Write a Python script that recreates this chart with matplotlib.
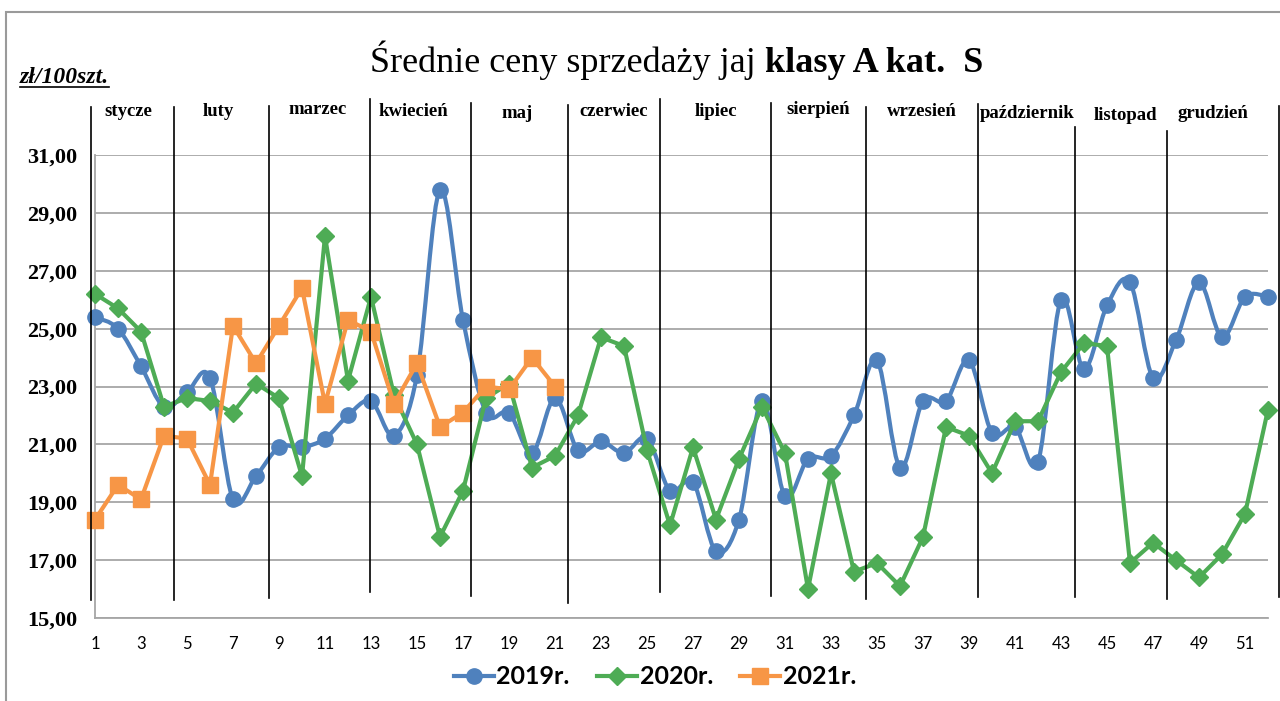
import numpy as np
import matplotlib
matplotlib.use("Agg")
import matplotlib.pyplot as plt
from matplotlib.path import Path
from matplotlib.patches import PathPatch, Rectangle
from matplotlib.lines import Line2D

# dane: tygodnie 1-52
tygodnie = list(range(1, 53))
ceny_2019 = [25.4, 25.0, 23.7, 22.3, 22.8, 23.3, 19.1, 19.9, 20.9, 20.9,
             21.2, 22.0, 22.5, 21.3, 23.4, 29.8, 25.3, 22.1, 22.1, 20.7,
             22.6, 20.8, 21.1, 20.7, 21.2, 19.4, 19.7, 17.3, 18.4, 22.5,
             19.2, 20.5, 20.6, 22.0, 23.9, 20.2, 22.5, 22.5, 23.9, 21.4,
             21.6, 20.4, 26.0, 23.6, 25.8, 26.6, 23.3, 24.6, 26.6, 24.7,
             26.1, 26.1]
ceny_2020 = [26.2, 25.7, 24.9, 22.3, 22.6, 22.5, 22.1, 23.1, 22.6, 19.9,
             28.2, 23.2, 26.1, 22.7, 21.0, 17.8, 19.4, 22.6, 23.1, 20.2,
             20.6, 22.0, 24.7, 24.4, 20.8, 18.2, 20.9, 18.4, 20.5, 22.3,
             20.7, 16.0, 20.0, 16.6, 16.9, 16.1, 17.8, 21.6, 21.3, 20.0,
             21.8, 21.8, 23.5, 24.5, 24.4, 16.9, 17.6, 17.0, 16.4, 17.2,
             18.6, 22.2]
ceny_2021 = [18.4, 19.6, 19.1, 21.3, 21.2, 19.6, 25.1, 23.8, 25.1, 26.4,
             22.4, 25.3, 24.9, 22.4, 23.8, 21.6, 22.1, 23.0, 22.9, 24.0,
             23.0]
miesiace = ["stycze", "luty", "marzec", "kwiecień", "maj", "czerwiec", "lipiec",
            "sierpień", "wrzesień", "październik", "listopad", "grudzień"]
# granice miesiecy (w tygodniach) - rysowane recznie w oryginale
granice = [0.83, 4.43, 8.57, 12.96, 17.35, 21.57, 25.57, 30.39, 34.52,
           39.39, 43.61, 47.61, 52.48]
granice_gora = [32.66, 32.66, 32.69, 32.93, 32.8, 32.73, 32.93, 32.8, 32.66,
                32.76, 31.97, 31.83, 32.69]
granice_dol = [15.62, 15.62, 15.69, 15.9, 15.76, 15.52, 15.9, 15.76, 15.66,
               15.73, 15.73, 15.66, 15.73]

niebieski = "#4F81BD"
zielony = "#4EAC55"
pomarancz = "#F79646"


def wygladz(x, y):
    # krzywa jak "wygladzona linia" w Excelu (Catmull-Rom -> Bezier)
    p = np.column_stack([x, y]).astype(float)
    n = len(p)
    verts = [p[0]]
    codes = [Path.MOVETO]
    for i in range(n - 1):
        p0 = p[i - 1] if i > 0 else p[i]
        p3 = p[i + 2] if i + 2 < n else p[i + 1]
        c1 = p[i] + (p[i + 1] - p0) / 6.0
        c2 = p[i + 1] - (p3 - p[i]) / 6.0
        verts += [c1, c2, p[i + 1]]
        codes += [Path.CURVE4] * 3
    return Path(verts, codes)


fig = plt.figure(figsize=(12.8, 7.01), dpi=100)
ax = fig.add_axes([95 / 1280, 83 / 701, 1173 / 1280, 463 / 701])

# ramka wykresu
fig.patches.append(Rectangle((6 / 1280, -0.1), 1.2, (701 - 12) / 701 + 0.1,
                             transform=fig.transFigure, fill=False,
                             edgecolor="#9a9a9a", lw=1.5))

lw = 3.0
ax.add_patch(PathPatch(wygladz(tygodnie, ceny_2019), fill=False,
                       edgecolor=niebieski, lw=lw, zorder=3, clip_on=False))
ax.plot(tygodnie, ceny_2019, ls="none", marker="o", ms=11, color=niebieski,
        zorder=3, clip_on=False)
ax.plot(tygodnie, ceny_2020, marker="D", ms=9, lw=lw, color=zielony,
        zorder=4, clip_on=False)
ax.plot(tygodnie[:len(ceny_2021)], ceny_2021, marker="s", ms=11, lw=lw,
        color=pomarancz, zorder=5, clip_on=False)

ax.set_xlim(1, 52)
ax.set_ylim(15, 31)
ax.set_yticks(range(15, 32, 2))
ax.set_yticklabels(["%d,00" % v for v in range(15, 32, 2)],
                   fontfamily="Liberation Serif", fontweight="bold", fontsize=16)
ax.set_xticks(range(1, 52, 2))
ax.set_xticklabels([str(v) for v in range(1, 52, 2)],
                   fontfamily="Lato", fontsize=12)
ax.tick_params(length=0)
ax.tick_params(axis="y", pad=13)
ax.tick_params(axis="x", pad=13)
ax.grid(axis="y", color="#a6a6a6", lw=1.3)
for s in ["top", "right"]:
    ax.spines[s].set_visible(False)
ax.spines["left"].set_color("#a6a6a6")
ax.spines["bottom"].set_color("#a6a6a6")
ax.spines["left"].set_linewidth(1.3)
ax.spines["bottom"].set_linewidth(1.3)
ax.set_axisbelow(True)

# pionowe linie miesiecy
for g, g1, g0 in zip(granice, granice_gora, granice_dol):
    ax.plot([g, g], [g0, g1], color="black", lw=1.2, zorder=6, clip_on=False)

miesiac_x = [128, 218, 318, 413, 517, 614, 716, 818, 922, 1027, 1126, 1213]
miesiac_y = [112, 112, 109, 112, 113, 111, 112, 110, 112, 113, 116, 114]
for m, mx, my in zip(miesiace, miesiac_x, miesiac_y):
    fig.text(mx / 1280, 1 - my / 701, m, ha="center", va="center",
             fontfamily="Liberation Serif", fontweight="bold", fontsize=13.5)

t1 = fig.text(370 / 1280, 1 - 72 / 701, "Średnie ceny sprzedaży jaj ",
              ha="left", va="baseline", fontfamily="Liberation Serif", fontsize=26)
fig.canvas.draw()
bb = t1.get_window_extent()
fig.text(bb.x1 / 1280, 1 - 72 / 701, "klasy A kat.  S", ha="left", va="baseline",
         fontfamily="Liberation Serif", fontweight="bold", fontsize=26)

jedn = fig.text(20 / 1280, 1 - 83 / 701, "zł/100szt.", ha="left", va="baseline",
                fontfamily="Liberation Serif", fontweight="bold", fontstyle="italic",
                fontsize=17)
fig.canvas.draw()
jb = jedn.get_window_extent()
fig.add_artist(Line2D([jb.x0 / 1280, jb.x1 / 1280], [1 - 87 / 701, 1 - 87 / 701],
                      color="black", lw=1.2))

uchwyty = [
    Line2D([], [], color=niebieski, lw=lw, marker="o", ms=11),
    Line2D([], [], color=zielony, lw=lw, marker="D", ms=9),
    Line2D([], [], color=pomarancz, lw=lw, marker="s", ms=11),
]
fig.legend(uchwyty, ["2019r.", "2020r.", "2021r."], loc="center",
           bbox_to_anchor=(655 / 1280, 1 - 677 / 701), ncol=3, frameon=False,
           prop={"family": "Lato", "weight": "bold", "size": 18},
           handlelength=1.6, handletextpad=0.1, columnspacing=1.1)

fig.savefig("out.png", dpi=100)
